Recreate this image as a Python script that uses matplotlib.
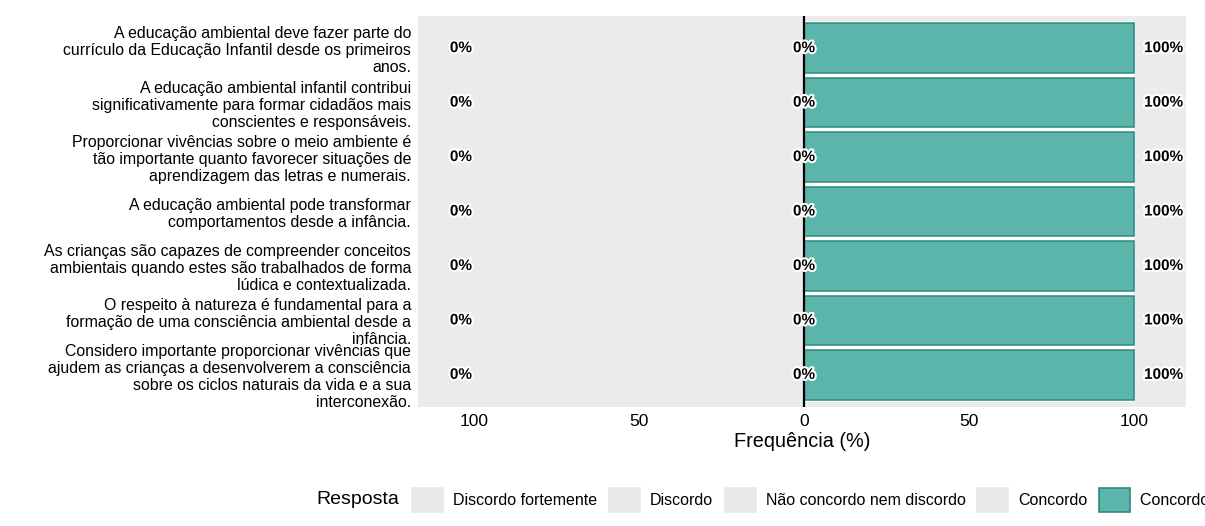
import matplotlib
matplotlib.use("Agg")
import matplotlib.pyplot as plt
import matplotlib.patheffects as pe
from matplotlib.patches import Rectangle
import numpy as np

plt.rcParams['font.family'] = ['Liberation Sans', 'DejaVu Sans']

statements = [
    "A educação ambiental deve fazer parte do\ncurrículo da Educação Infantil desde os primeiros\nanos.",
    "A educação ambiental infantil contribui\nsignificativamente para formar cidadãos mais\nconscientes e responsáveis.",
    "Proporcionar vivências sobre o meio ambiente é\ntão importante quanto favorecer situações de\naprendizagem das letras e numerais.",
    "A educação ambiental pode transformar\ncomportamentos desde a infância.",
    "As crianças são capazes de compreender conceitos\nambientais quando estes são trabalhados de forma\nlúdica e contextualizada.",
    "O respeito à natureza é fundamental para a\nformação de uma consciência ambiental desde a\ninfância.",
    "Considero importante proporcionar vivências que\najudem as crianças a desenvolverem a consciência\nsobre os ciclos naturais da vida e a sua\ninterconexão.",
]
responses = ["Discordo fortemente", "Discordo", "Não concordo nem discordo",
             "Concordo", "Concordo fortemente"]
discordo_fortemente = [0, 0, 0, 0, 0, 0, 0]
discordo = [0, 0, 0, 0, 0, 0, 0]
neutro = [0, 0, 0, 0, 0, 0, 0]
concordo = [0, 0, 0, 0, 0, 0, 0]
concordo_fortemente = [100, 100, 100, 100, 100, 100, 100]
x_ticks = [-100, -50, 0, 50, 100]
x_tick_labels = ["100", "50", "0", "50", "100"]

colors = ["#E9E9E9", "#E9E9E9", "#E9E9E9", "#E9E9E9", "#5BB5AA"]
edge_dark = "#2E8A7F"

fig = plt.figure(figsize=(12.05, 5.26), dpi=100)
ax = fig.add_axes([418/1205, 1-407/526, (1186-418)/1205, (407-16)/526])
ax.set_facecolor("#EBEBEB")
for s in ax.spines.values():
    s.set_visible(False)

n = len(statements)
y = np.arange(n)
df = np.array(discordo_fortemente, float)
d = np.array(discordo, float)
nt = np.array(neutro, float)
c = np.array(concordo, float)
cf = np.array(concordo_fortemente, float)

left_d = -nt/2 - d
left_df = left_d - df
segments = [
    (left_df, df),
    (left_d, d),
    (-nt/2, nt),
    (nt/2, c),
    (nt/2 + c, cf),
]
for (lefts, widths), col in zip(segments, colors):
    mask = widths > 0
    if mask.any():
        ax.barh(y[mask], widths[mask], left=lefts[mask], height=1.0, color="white",
                linewidth=0, zorder=2)
        ax.barh(y[mask], widths[mask], left=lefts[mask], height=0.91, color=col,
                edgecolor=edge_dark, linewidth=1.1, zorder=3)

ax.axvline(0, color="black", lw=1.6, zorder=4)

disagree = df + d
agree = c + cf
halo = [pe.withStroke(linewidth=3, foreground="white")]
for i in range(n):
    ax.text(-104, y[i], f"{disagree[i]:.0f}%", ha="center", va="center",
            fontsize=11, fontweight="bold", path_effects=halo, zorder=5)
    ax.text(0, y[i], f"{nt[i]:.0f}%", ha="center", va="center",
            fontsize=11, fontweight="bold", path_effects=halo, zorder=5)
    ax.text(agree[i] + 9, y[i], f"{agree[i]:.0f}%", ha="center", va="center",
            fontsize=11, fontweight="bold", path_effects=halo, zorder=5)

ax.set_xlim(-117, 115.8)
ax.set_ylim(n - 1 + 0.59, -0.59)
ax.set_xticks(x_ticks)
ax.set_xticklabels(x_tick_labels, fontsize=12.5)
ax.set_yticks(y)
ax.set_yticklabels(statements, fontsize=11.4, linespacing=1.17)
ax.tick_params(axis="both", length=0)
ax.tick_params(axis="y", pad=5)
ax.tick_params(axis="x", pad=5)
ax.set_xlabel("Frequência (%)", fontsize=14.3, labelpad=2)

handles = [Rectangle((0, 0), 1, 1, facecolor=col,
                     edgecolor=(edge_dark if i == 4 else col), linewidth=1.2)
           for i, col in enumerate(colors)]
fig.text(358/1205, 1-500/526, "Resposta", ha="center", va="center", fontsize=14)
leg = fig.legend(handles, responses, loc="center left",
                 bbox_to_anchor=(412/1205, 1-500/526), ncol=5, frameon=False,
                 fontsize=11.5, handlelength=1.95, handleheight=1.9,
                 handletextpad=0.63, columnspacing=0.72, borderpad=0,
                 borderaxespad=0)

fig.savefig("out.png", dpi=100, facecolor="white")
